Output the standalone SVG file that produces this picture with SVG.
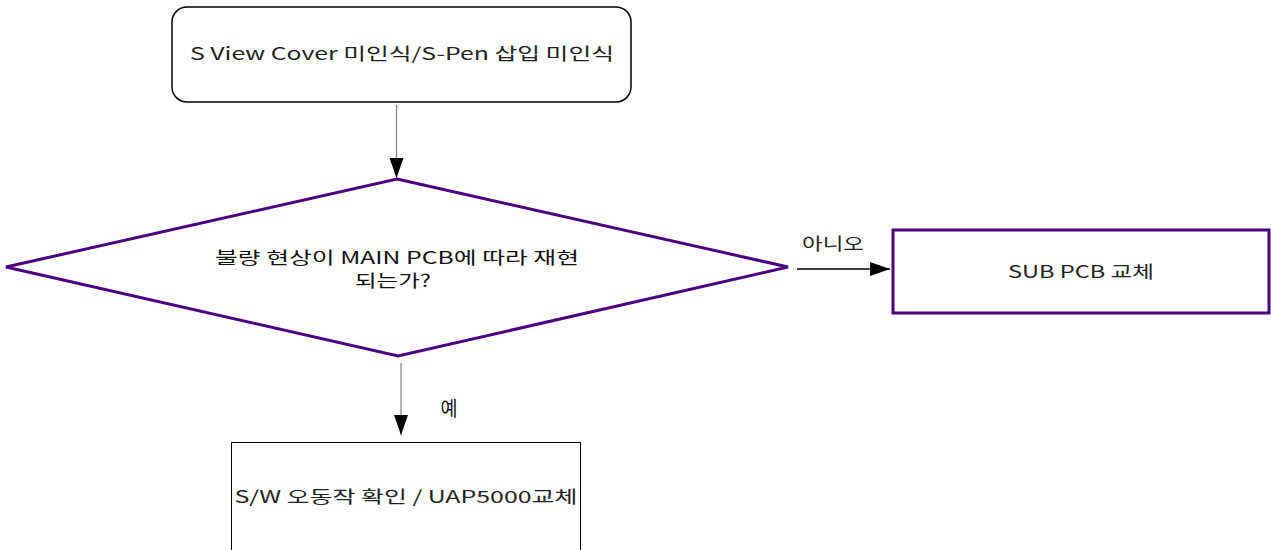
<svg xmlns="http://www.w3.org/2000/svg" width="1271" height="550" viewBox="0 0 1271 550">
<defs>
<style>
.t{font-family:"Noto Sans CJK KR","Liberation Sans",sans-serif;font-size:17px;fill:#222;text-anchor:middle}
.c{font-family:"Noto Sans CJK KR","Liberation Sans",sans-serif;font-size:17px;fill:#111;text-anchor:middle}
.p{fill:#fff;stroke:#4b0082;stroke-width:3}
.conn{stroke-width:1.3;fill:none}
</style>
<marker id="ah" markerUnits="userSpaceOnUse" markerWidth="22" markerHeight="16" refX="20" refY="7" orient="auto">
<path d="M0,0 L20,7 L0,14 Z" fill="#000"/>
</marker>
</defs>
<rect width="1271" height="550" fill="#fff"/>
<g id="start">
<rect x="172" y="7" width="459" height="95" rx="15" ry="15" fill="#fff" stroke="#000" stroke-width="1.5"/>
<text class="t" x="402" y="60" textLength="424" lengthAdjust="spacingAndGlyphs">S View Cover 미인식/S-Pen 삽입 미인식</text>
</g>
<g id="decision">
<polygon class="p" points="397,179 788,267 398,356 6,267"/>
<text class="c" x="397" y="264" textLength="364" lengthAdjust="spacingAndGlyphs">불량 현상이 MAIN PCB에 따라 재현</text>
<text class="c" x="393" y="287" textLength="76" lengthAdjust="spacingAndGlyphs">되는가?</text>
</g>
<g id="sub">
<rect class="p" x="893" y="230" width="376" height="83"/>
<text class="t" x="1081" y="278" textLength="146" lengthAdjust="spacingAndGlyphs">SUB PCB 교체</text>
</g>
<g id="sw">
<rect x="231.5" y="442.5" width="349" height="120" fill="#fff" stroke="#000" stroke-width="1"/>
<text class="t" x="406" y="503" textLength="343" lengthAdjust="spacingAndGlyphs">S/W 오동작 확인 / UAP5000교체</text>
</g>
<g id="connectors">
<line class="conn" x1="396.5" y1="105" x2="396.5" y2="178" stroke="#888" marker-end="url(#ah)"/>
<line class="conn" x1="797" y1="269" x2="890" y2="269" stroke="#000" marker-end="url(#ah)"/>
<line class="conn" x1="401" y1="363" x2="401" y2="435" stroke="#888" marker-end="url(#ah)"/>
<text class="t" x="833" y="250" textLength="62" lengthAdjust="spacingAndGlyphs">아니오</text>
<text class="c" x="449" y="416" style="font-size:20px" textLength="17" lengthAdjust="spacingAndGlyphs">예</text>
</g>
</svg>
